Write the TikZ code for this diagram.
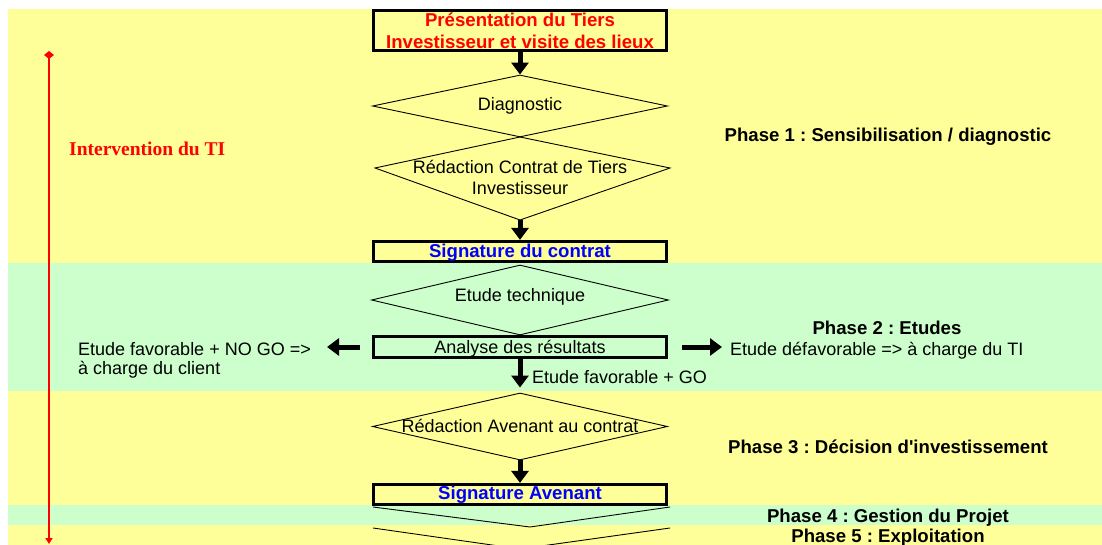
\documentclass[tikz,border=0pt]{standalone}
\usepackage{fontspec}
\setmainfont{Liberation Sans}
\newfontfamily\serifti{Liberation Serif}
\usepackage{tikz}
\usetikzlibrary{shapes.geometric}
\usetikzlibrary{arrows.meta}
\frenchspacing

\definecolor{bandyellow}{HTML}{FFFF99}
\definecolor{bandgreen}{HTML}{CCFFCC}

\tikzset{
    txt/.style={font=\fontsize{18}{21}\selectfont, inner sep=0pt},
    boldtxt/.style={font=\fontsize{18.6}{22}\selectfont\bfseries},
    phase/.style={inner sep=0pt, boldtxt, anchor=base},
    stepbox/.style={draw, line width=3.2pt, minimum width=293pt, inner sep=0pt,
        text height=12pt, text depth=0pt, txt},
    dia/.style={draw, diamond, line width=0.9pt, inner sep=0pt, minimum width=295pt},
    thinline/.style={line width=0.9pt},
    bigarr/.style={line width=5pt, -{Triangle[length=12pt,width=17pt]}},
    tiline/.style={red, line width=2.2pt, {Diamond[length=8pt,width=10pt]}-{Triangle[length=6pt,width=7pt]}}
}

\begin{document}
\begin{tikzpicture}[x=1pt,y=-1pt]
    \useasboundingbox (0,0) rectangle (1102,545);
    \fill[white] (0,0) rectangle (1102,545);

    % phase bands
    \foreach \ya/\yb/\c in {9/263/bandyellow, 263/391/bandgreen, 391/505/bandyellow,
                            505/525/bandgreen, 525/545/bandyellow} {
        \fill[\c] (8,\ya) rectangle (1102,\yb);
    }

    % intervention du TI
    \draw[tiline] (49,51) -- (49,544);
    \node[inner sep=0pt, text=red, font=\serifti\bfseries\fontsize{19.5}{22}\selectfont, anchor=base west]
        (ti) at (69,156) {Intervention du TI};

    % diamonds
    \node[dia, minimum height=62pt] (diag) at (520,106) {};
    \node[dia, minimum width=297pt, minimum height=70pt] (tech) at (520,300) {};
    \node[dia, minimum height=67pt] (aven) at (520,426.5) {};

    \coordinate (kt) at (520,137);
    \coordinate (kr) at (670,168);
    \coordinate (kb) at (520,220);
    \coordinate (kl) at (375,168);
    \draw[thinline] (kt) -- (kr) -- (kb) -- (kl) -- cycle;

    \node[txt, anchor=base] (diagt) at (520,111) {Diagnostic};
    \node[txt, anchor=base] (redca) at (520,174) {Rédaction Contrat de Tiers};
    \node[txt, anchor=base] (redcb) at (520,195) {Investisseur};
    \node[txt, anchor=base] (techt) at (520,301) {Etude technique};
    \node[txt, anchor=base] (avent) at (520,432) {Rédaction Avenant au contrat};

    % boxes
    \node[draw, line width=3.2pt, minimum width=293pt, minimum height=40pt, inner sep=0pt,
          align=center, text=red, boldtxt]
        (pres) at (520,30.5) {Présentation du Tiers\\Investisseur et visite des lieux};
    \node[stepbox, minimum height=20pt, text=blue, boldtxt]
        (sigc) at (520,251.5) {Signature du contrat};
    \node[stepbox, minimum height=21pt] (anal) at (520,347) {Analyse des résultats};
    \node[stepbox, minimum height=20pt, text=blue, boldtxt, text height=9pt]
        (siga) at (520,494.5) {Signature Avenant};

    % lower diamonds, cut by the page
    \draw[thinline] (373,507) -- (530,527) -- (670,507);
    \draw[thinline] (373,528) -- (520,549) -- (670,528);

    % side results
    \coordinate (lt) at (327,347);
    \coordinate (rt) at (722,347);
    \node[txt, anchor=north west, align=left, font=\fontsize{18}{19}\selectfont]
        (nogo) at (78,342) {Etude favorable + NO GO =>\\à charge du client};
    \node[txt, anchor=base west] (defav) at (730,355) {Etude défavorable => à charge du TI};
    \node[txt, anchor=base west] (go) at (532,383) {Etude favorable + GO};

    % arrows
    \draw[bigarr] (pres.south) -- (diag.north);
    \draw[bigarr] (kb) -- (sigc.north);
    \draw[bigarr] ([xshift=-12pt]anal.west) -- (lt);
    \draw[bigarr] ([xshift=14pt]anal.east) -- (rt);
    \draw[bigarr] (anal.south) -- ([yshift=5pt]aven.north);
    \draw[bigarr] (aven.south) -- (siga.north);

    % phases
    \node[phase] (ph1) at (888,142) {Phase 1 : Sensibilisation / diagnostic};
    \node[phase] (ph2) at (887,334) {Phase 2 : Etudes};
    \node[phase] (ph3) at (888,453) {Phase 3 : Décision d\textquotesingle investissement};
    \node[phase] (ph4) at (888,522) {Phase 4 : Gestion du Projet};
    \node[phase] (ph5) at (888,542.5) {Phase 5 : Exploitation};
\end{tikzpicture}
\end{document}
